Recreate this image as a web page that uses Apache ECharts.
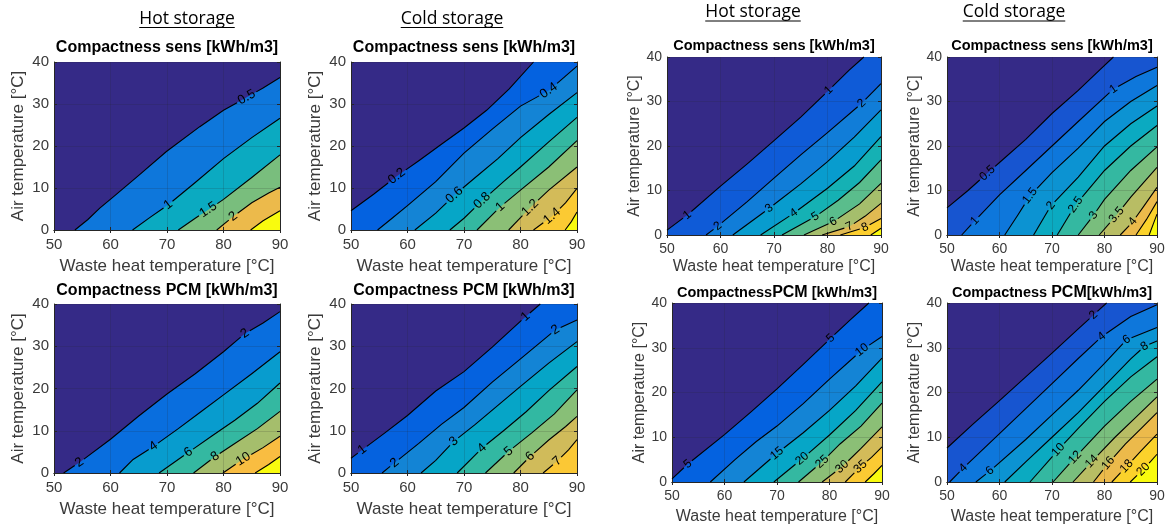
<!DOCTYPE html>
<html>
<head>
<meta charset="utf-8">
<title>Compactness maps</title>
<script src="https://cdn.jsdelivr.net/npm/echarts@6/dist/echarts.min.js"></script>
<style>
  html, body { margin: 0; padding: 0; background: #fff; }
  #chart { width: 1169px; height: 527px; }
</style>
</head>
<body>
<div id="chart"></div>
<script>
  // axis ranges (waste heat temperature, air temperature)
  var xTicks = [50, 60, 70, 80, 90];
  var yTicks = [0, 10, 20, 30, 40];

  // contour levels, contour lines [[x, y], ...] and label spots [lineIndex, x, y]
  var hotSensLevels = [0.5, 1, 1.5, 2, 2.5];
  var hotSensLines = [
    [[53.7, 0], [56, 2.5], [58.1, 5.2], [60.5, 7.9], [65, 13], [69.9, 18.7], [75.8, 24.6], [80, 28.5], [84.1, 31.6], [87, 33.8], [90, 36.3]],
    [[63.9, 0], [67, 3], [70.2, 6], [75, 11.3], [80, 17], [85, 22], [90, 26.6]],
    [[72, 0], [75, 2.8], [77.3, 4.8], [80, 7.3], [85, 12.5], [90, 17.9]],
    [[78.8, 0], [81.7, 3.2], [85, 6.5], [88, 8.8], [90, 10.2]],
    [[84.8, 0], [87, 2.2], [90, 4.6]]
  ];
  var hotSensLabels = [[0, 84.1, 31.6], [1, 70.2, 6], [2, 77.3, 4.8], [3, 81.7, 3.2]];

  var coldSensLevels = [0.2, 0.4, 0.6, 0.8, 1, 1.2, 1.4, 1.6];
  var coldSensLines = [
    [[50, 4.6], [54, 8.5], [58.1, 12.8], [62, 16.5], [66, 20.4], [70, 24.3], [74, 28.5], [78, 33.6], [82.3, 40]],
    [[54.7, 0], [57, 2.5], [60, 5.8], [65, 11.5], [70, 18.3], [75, 24], [80, 29.5], [85, 33.2], [90, 39]],
    [[61.3, 0], [65, 4], [68.3, 8.3], [72, 12.5], [76, 17], [80, 22], [85, 27.5], [90, 32.7]],
    [[67.5, 0], [70, 2.8], [73.2, 7], [77, 11.5], [80, 15], [85, 21], [90, 26.8]],
    [[72.3, 0], [76.4, 5.5], [80, 9.5], [85, 15], [90, 21.3]],
    [[77.9, 0], [81.7, 5.3], [85, 9.5], [90, 15]],
    [[82.3, 0], [85.6, 3.3], [88, 6.5], [90, 9.9]],
    [[87.9, 0], [89, 2], [90, 4.3]]
  ];
  var coldSensLabels = [[0, 58.1, 12.8], [1, 85, 33.2], [2, 68.3, 8.3], [3, 73.2, 7], [4, 76.4, 5.5], [5, 81.7, 5.3], [6, 85.6, 3.3]];

  var hotSens2Levels = [1, 2, 3, 4, 5, 6, 7, 8, 9];
  var hotSens2Lines = [
    [[50, 1.1], [53.8, 4.5], [60, 11], [65, 16], [70, 21.2], [75, 26.5], [80.2, 32.5], [84, 37], [86.8, 40]],
    [[57.3, 0], [59.5, 2], [65, 7.5], [70, 12.8], [75, 18], [80, 23], [86.4, 29.6], [90, 34]],
    [[62.3, 0], [69.1, 6], [75, 11.5], [80, 16.5], [85, 22], [90, 28.1]],
    [[67.5, 0], [73.7, 4.9], [80, 10.5], [85, 15.5], [90, 22.1]],
    [[71.5, 0], [77.7, 4.1], [82, 7.8], [86, 11.8], [90, 16.9]],
    [[75.6, 0], [81.1, 3], [86, 7], [90, 11.6]],
    [[79, 0], [84.1, 1.9], [87, 4.2], [90, 7.1]],
    [[82.4, 0], [87, 1.7], [90, 3.7]],
    [[88.1, 0], [90, 1.5]]
  ];
  var hotSens2Labels = [[0, 53.8, 4.5], [0, 80.2, 32.5], [1, 59.5, 2], [1, 86.4, 29.6], [2, 69.1, 6], [3, 73.7, 4.9], [4, 77.7, 4.1], [5, 81.1, 3], [6, 84.1, 1.9], [7, 87, 1.7]];

  var coldSens2Levels = [0.5, 1, 1.5, 2, 2.5, 3, 3.5, 4, 4.5, 5];
  var coldSens2Lines = [
    [[50, 6.1], [54, 10], [57.7, 13.9], [60, 16.3], [65, 21.5], [70, 27.3], [75, 32.5], [79, 37], [81.7, 40]],
    [[52.8, 0], [55.3, 3.2], [60, 9], [65, 14.5], [70, 20], [75, 25.5], [81.7, 32.8], [86, 35.6], [90, 37.7]],
    [[61, 0], [63.5, 4.5], [65.8, 8.8], [70, 14], [75, 19.5], [80, 25.5], [85, 30], [90, 33.6]],
    [[66.5, 0], [69.8, 6.6], [75, 13], [80, 20], [85, 25], [90, 29]],
    [[71, 0], [74.5, 6.8], [80, 14.5], [85, 20], [90, 24.6]],
    [[75, 0], [77.9, 4.4], [80, 8], [85, 14.5], [90, 19.8]],
    [[79, 0], [82.3, 4.5], [85, 8.5], [90, 15.2]],
    [[83, 0], [85.4, 3], [87.5, 6.5], [90, 10.7]],
    [[86, 0], [88, 3.5], [90, 7.5]],
    [[88.5, 0], [89.3, 2.5], [90, 4.7]]
  ];
  var coldSens2Labels = [[0, 57.7, 13.9], [1, 55.3, 3.2], [1, 81.7, 32.8], [2, 65.8, 8.8], [3, 69.8, 6.6], [4, 74.5, 6.8], [5, 77.9, 4.4], [6, 82.3, 4.5], [7, 85.4, 3]];

  var hotPcmLevels = [2, 4, 6, 8, 10, 12];
  var hotPcmLines = [
    [[51.7, 0], [54.5, 2.5], [60, 8], [65, 13.5], [70, 18.7], [75, 23.5], [80, 28.7], [83.8, 33], [87, 35.5], [90, 38.2]],
    [[61.6, 0], [64, 3.2], [67.6, 6.3], [72, 10.5], [76, 14.5], [80, 18.5], [85, 23.5], [90, 28.7]],
    [[68.6, 0], [73.8, 4.9], [78, 8.8], [82, 12.5], [86, 16.5], [90, 21.3]],
    [[74.7, 0], [78.5, 3.9], [82, 7], [86, 10.5], [90, 14.6]],
    [[79.9, 0], [83.5, 3.3], [87, 6], [90, 8.7]],
    [[85.6, 0], [88, 2], [90, 3.9]]
  ];
  var hotPcmLabels = [[0, 54.5, 2.5], [0, 83.8, 33], [1, 67.6, 6.3], [2, 73.8, 4.9], [3, 78.5, 3.9], [4, 83.5, 3.3]];

  var coldPcmLevels = [1, 2, 3, 4, 5, 6, 7];
  var coldPcmLines = [
    [[50, 3.5], [52, 5.5], [56, 9.5], [60, 13.6], [65, 19.4], [70, 24], [75, 29.8], [80.9, 37], [83.5, 40]],
    [[55.5, 0], [57.7, 2.4], [62, 7], [66, 11.5], [70, 15.5], [75, 21.5], [80, 27], [86.2, 33.9], [90, 36.2]],
    [[62.4, 0], [65, 3], [68.2, 7.5], [72, 11.5], [76, 16], [80, 20.5], [85, 26], [90, 31.1]],
    [[68.8, 0], [73.2, 5.9], [77, 10], [81, 14.5], [85, 19.5], [90, 25.2]],
    [[73.8, 0], [77.9, 5.1], [82, 9.5], [86, 14], [90, 19.7]],
    [[78.8, 0], [81.7, 3.9], [85, 7.8], [88, 11], [90, 13.4]],
    [[84, 0], [86.5, 2.8], [88.5, 5.5], [90, 7.9]]
  ];
  var coldPcmLabels = [[0, 52, 5.5], [0, 80.9, 37], [1, 57.7, 2.4], [1, 86.2, 33.9], [2, 68.2, 7.5], [3, 73.2, 5.9], [4, 77.9, 5.1], [5, 81.7, 3.9], [6, 86.5, 2.8]];

  var hotPcm2Levels = [5, 10, 15, 20, 25, 30, 35, 40];
  var hotPcm2Lines = [
    [[50, 0.7], [53, 4], [60, 10.6], [65, 15.6], [70, 20.8], [75, 26.3], [80.2, 32.1], [84, 36.3], [87.5, 40]],
    [[57.3, 0], [62, 5], [66, 9], [70, 12.5], [75, 17.5], [80, 23], [86.2, 29.5], [90, 32.5]],
    [[63.7, 0], [70, 6.4], [75, 11], [80, 16], [85, 21.5], [90, 27.7]],
    [[69.4, 0], [74.8, 5.2], [80, 10.5], [85, 16], [90, 22.4]],
    [[74.1, 0], [78.6, 4.5], [82, 8.5], [86, 12.5], [90, 17.6]],
    [[78.6, 0], [82.4, 3.4], [86, 7.5], [90, 12.3]],
    [[83, 0], [85.9, 3.4], [88, 5.5], [90, 7.85]],
    [[86.8, 0], [88.5, 1.9], [90, 3.7]]
  ];
  var hotPcm2Labels = [[0, 53, 4], [0, 80.2, 32.1], [1, 86.2, 29.5], [2, 70, 6.4], [3, 74.8, 5.2], [4, 78.6, 4.5], [5, 82.4, 3.4], [6, 85.9, 3.4]];

  var coldPcm2Levels = [2, 4, 6, 8, 10, 12, 14, 16, 18, 20];
  var coldPcm2Lines = [
    [[50, 7.6], [55, 13], [60, 18.2], [65, 23.5], [70, 28.8], [75, 34.2], [77.9, 37.3], [80.4, 40]],
    [[50.5, 0], [53.1, 3.1], [60, 10.8], [65, 16.4], [70, 22], [75, 27.6], [79.5, 32.5], [85, 37], [90, 39.6]],
    [[55.5, 0], [58.2, 2.5], [65, 9.5], [70, 15], [75, 20.5], [80, 26.5], [84.2, 31.8], [90, 34.5]],
    [[61, 0], [65, 4.5], [70, 10], [75, 15.5], [80, 21.5], [85, 27.5], [87.6, 30.3], [90, 31.5]],
    [[65.8, 0], [71.2, 7.2], [75, 12], [80, 18], [85, 23.5], [90, 28]],
    [[70.2, 0], [74.4, 5.5], [80, 12.5], [85, 18], [90, 23]],
    [[74, 0], [77.6, 4.6], [82, 10], [86, 14.5], [90, 19]],
    [[77.9, 0], [80.7, 4.2], [84, 8.5], [87, 12], [90, 15.5]],
    [[81.4, 0], [84.2, 3.5], [87, 7], [90, 10.7]],
    [[84.9, 0], [87.4, 2.8], [90, 6.2]]
  ];
  var coldPcm2Labels = [[0, 77.9, 37.3], [1, 53.1, 3.1], [1, 79.5, 32.5], [2, 58.2, 2.5], [2, 84.2, 31.8], [3, 87.6, 30.3], [4, 71.2, 7.2], [5, 74.4, 5.5], [6, 77.6, 4.6], [7, 80.7, 4.2], [8, 84.2, 3.5], [9, 87.4, 2.8]];

  // parula colour map, sampled every 4th of the 64 entries
  var parulaAt = [0, 4, 8, 12, 16, 20, 24, 28, 32, 36, 40, 44, 48, 52, 56, 60, 63];
  var parula = ['#352A87', '#3243BA', '#0363E1', '#0D75DC', '#1485D4', '#0998D1', '#06A7C6', '#15B1B4', '#38B99E',
    '#65BE86', '#92BF73', '#B7BD64', '#D9BA56', '#F8BA44', '#FCCE2E', '#F5E41D', '#F9FB0E'];

  var FONT = '"Liberation Sans", Arial, Helvetica, sans-serif';
  var AXIS_COLOR = '#262626';
  var TEXT_COLOR = '#3a3a3a';

  var panels = [
    {levels: hotSensLevels, lines: hotSensLines, labels: hotSensLabels, title: 'Compactness sens [kWh/m3]',
      left: 54, top: 62, width: 226, height: 168, titleY: 49, xGap: 28, yGap: 27, big: true},
    {levels: coldSensLevels, lines: coldSensLines, labels: coldSensLabels, title: 'Compactness sens [kWh/m3]',
      left: 351, top: 62, width: 226, height: 168, titleY: 49, xGap: 28, yGap: 27, big: true},
    {levels: hotSens2Levels, lines: hotSens2Lines, labels: hotSens2Labels, title: 'Compactness sens [kWh/m3]',
      left: 667, top: 57, width: 214, height: 178, titleY: 47, xGap: 24, yGap: 15},
    {levels: coldSens2Levels, lines: coldSens2Lines, labels: coldSens2Labels, title: 'Compactness sens [kWh/m3]',
      left: 947, top: 57, width: 210, height: 178, titleY: 47, xGap: 24, yGap: 18},
    {levels: hotPcmLevels, lines: hotPcmLines, labels: hotPcmLabels, title: 'Compactness PCM [kWh/m3]',
      left: 54, top: 304, width: 226, height: 169, titleY: 292, xGap: 28, yGap: 27, big: true},
    {levels: coldPcmLevels, lines: coldPcmLines, labels: coldPcmLabels, title: 'Compactness PCM [kWh/m3]',
      left: 351, top: 304, width: 226, height: 169, titleY: 292, xGap: 28, yGap: 27, big: true, top_: 0.87},
    {levels: hotPcm2Levels, lines: hotPcm2Lines, labels: hotPcm2Labels, title: '{a|Compactness}{b|PCM}{a| [kWh/m3]}',
      left: 672, top: 303, width: 210, height: 179, titleY: 293, xGap: 27, yGap: 20},
    {levels: coldPcm2Levels, lines: coldPcm2Lines, labels: coldPcm2Labels, title: '{a|Compactness }{b|PCM}{a|[kWh/m3]}',
      left: 947, top: 303, width: 210, height: 179, titleY: 293, xGap: 27, yGap: 20}
  ];

  function hexRgb(h) {
    return [parseInt(h.substr(1, 2), 16), parseInt(h.substr(3, 2), 16), parseInt(h.substr(5, 2), 16)];
  }
  function parulaColor(f) {
    var pos = Math.max(0, Math.min(1, f)) * 63;
    for (var i = 0; i < parulaAt.length - 1; i++) {
      if (pos <= parulaAt[i + 1]) {
        var t = (pos - parulaAt[i]) / (parulaAt[i + 1] - parulaAt[i]);
        var a = hexRgb(parula[i]), b = hexRgb(parula[i + 1]);
        return 'rgb(' + a.map(function (v, j) { return Math.round(v + (b[j] - v) * t); }).join(',') + ')';
      }
    }
    return parula[parula.length - 1];
  }

  var measureCtx = document.createElement('canvas').getContext('2d');
  function textWidth(txt, font) {
    measureCtx.font = font;
    return measureCtx.measureText(txt).width;
  }

  function pointAt(pts, cum, s) {
    for (var j = 0; j < pts.length - 1; j++) {
      if (s <= cum[j + 1] || j === pts.length - 2) {
        var len = cum[j + 1] - cum[j] || 1;
        var t = (s - cum[j]) / len;
        return [pts[j][0] + (pts[j + 1][0] - pts[j][0]) * t, pts[j][1] + (pts[j + 1][1] - pts[j][1]) * t];
      }
    }
    return pts[0];
  }
  function subPath(pts, cum, s0, s1) {
    var out = [pointAt(pts, cum, s0)];
    for (var j = 0; j < pts.length; j++) {
      if (cum[j] > s0 && cum[j] < s1) out.push(pts[j]);
    }
    out.push(pointAt(pts, cum, s1));
    return out;
  }
  function project(pts, cum, q) {
    var best = Infinity, bestS = 0;
    for (var j = 0; j < pts.length - 1; j++) {
      var vx = pts[j + 1][0] - pts[j][0], vy = pts[j + 1][1] - pts[j][1];
      var l2 = vx * vx + vy * vy || 1;
      var t = ((q[0] - pts[j][0]) * vx + (q[1] - pts[j][1]) * vy) / l2;
      t = Math.max(0, Math.min(1, t));
      var dx = pts[j][0] + vx * t - q[0], dy = pts[j][1] + vy * t - q[1];
      var d = dx * dx + dy * dy;
      if (d < best) { best = d; bestS = cum[j] + t * Math.sqrt(l2); }
    }
    return bestS;
  }

  // draws the black contour lines, broken where the inline labels sit
  function contourRenderer(p) {
    var font = (p.big ? 13 : 12) + 'px ' + FONT;
    return function (params, api) {
      var k = api.value(2);
      var pts = p.lines[k].map(function (d) { return api.coord(d); });
      var cum = [0];
      for (var i = 1; i < pts.length; i++) {
        cum.push(cum[i - 1] + Math.hypot(pts[i][0] - pts[i - 1][0], pts[i][1] - pts[i - 1][1]));
      }
      var total = cum[cum.length - 1];
      var gaps = [], texts = [];
      p.labels.forEach(function (lb) {
        if (lb[0] !== k) return;
        var s = project(pts, cum, api.coord([lb[1], lb[2]]));
        var txt = String(p.levels[k]);
        var half = textWidth(txt, font) / 2 + 2;
        var a = pointAt(pts, cum, Math.max(0, s - half));
        var b = pointAt(pts, cum, Math.min(total, s + half));
        var ang = Math.atan2(a[1] - b[1], b[0] - a[0]);
        if (ang > Math.PI / 2) ang -= Math.PI;
        if (ang < -Math.PI / 2) ang += Math.PI;
        var c = pointAt(pts, cum, s);
        gaps.push([s - half, s + half]);
        texts.push({
          type: 'text', x: c[0], y: c[1], rotation: ang,
          style: {text: txt, font: font, fill: '#000', align: 'center', verticalAlign: 'middle',
            textAlign: 'center', textVerticalAlign: 'middle'}
        });
      });
      gaps.sort(function (g1, g2) { return g1[0] - g2[0]; });
      var pieces = [], from = 0;
      gaps.forEach(function (g) {
        if (g[0] > from) pieces.push(subPath(pts, cum, from, g[0]));
        from = Math.max(from, g[1]);
      });
      if (from < total) pieces.push(subPath(pts, cum, from, total));
      var children = pieces.map(function (seg) {
        return {type: 'polyline', shape: {points: seg}, style: {stroke: '#000', lineWidth: 1.1, fill: null}};
      });
      return {type: 'group', children: children.concat(texts)};
    };
  }

  // filled region "value >= level": the contour line closed down to the x axis
  function fillPath(line) {
    var pts = line.slice();
    var last = pts[pts.length - 1];
    if (last[1] >= yTicks[yTicks.length - 1] && last[0] < xTicks[xTicks.length - 1]) {
      pts.push([xTicks[xTicks.length - 1], yTicks[yTicks.length - 1]]);
    }
    return pts;
  }

  var grids = [], xAxes = [], yAxes = [], titles = [], series = [];
  var xTop = [], yRight = [];

  panels.forEach(function (p, i) {
    var tick = p.big ? 15 : 14;
    var nameSize = p.big ? 17 : 16;
    var titleSize = p.big ? 16 : 14.5;
    var nBands = p.levels.length + 1;
    var topFrac = p.top_ || 1;

    grids.push({left: p.left, top: p.top, width: p.width, height: p.height, show: true,
      backgroundColor: parula[0], borderWidth: 0});

    var common = {
      gridIndex: i, type: 'value', z: 3,
      axisLine: {show: true, lineStyle: {color: AXIS_COLOR, width: 1}},
      axisTick: {show: true, inside: true, length: 3, lineStyle: {color: AXIS_COLOR}},
      splitLine: {show: true, lineStyle: {color: 'rgba(38,38,38,0.16)', width: 1}}
    };
    xAxes.push(Object.assign({}, common, {
      position: 'bottom', min: xTicks[0], max: xTicks[xTicks.length - 1], interval: xTicks[1] - xTicks[0],
      axisLabel: {color: TEXT_COLOR, fontSize: tick, fontFamily: FONT, margin: 7},
      name: 'Waste heat temperature [°C]', nameLocation: 'middle', nameGap: p.xGap,
      nameTextStyle: {color: TEXT_COLOR, fontSize: nameSize, fontFamily: FONT}
    }));
    yAxes.push(Object.assign({}, common, {
      position: 'left', min: yTicks[0], max: yTicks[yTicks.length - 1], interval: yTicks[1] - yTicks[0],
      axisLabel: {color: TEXT_COLOR, fontSize: tick, fontFamily: FONT, margin: 5},
      name: 'Air temperature [°C]', nameLocation: 'middle', nameGap: p.yGap,
      nameTextStyle: {color: TEXT_COLOR, fontSize: nameSize, fontFamily: FONT}
    }));
    xTop.push({
      gridIndex: i, type: 'value', position: 'top', z: 3,
      min: xTicks[0], max: xTicks[xTicks.length - 1], interval: xTicks[1] - xTicks[0],
      axisLine: {show: true, lineStyle: {color: AXIS_COLOR, width: 1}},
      axisTick: {show: true, inside: true, length: 3, lineStyle: {color: AXIS_COLOR}},
      axisLabel: {show: false}, splitLine: {show: false}
    });
    yRight.push({
      gridIndex: i, type: 'value', position: 'right', z: 3,
      min: yTicks[0], max: yTicks[yTicks.length - 1], interval: yTicks[1] - yTicks[0],
      axisLine: {show: true, lineStyle: {color: AXIS_COLOR, width: 1}},
      axisTick: {show: true, inside: true, length: 3, lineStyle: {color: AXIS_COLOR}},
      axisLabel: {show: false}, splitLine: {show: false}
    });

    titles.push({
      text: p.title, left: p.left + p.width / 2, top: p.titleY - titleSize / 2 - 1, textAlign: 'center', padding: 0,
      textStyle: {color: '#000', fontSize: titleSize, fontWeight: 'bold', fontFamily: FONT,
        rich: {
          a: {color: '#000', fontSize: titleSize, fontWeight: 'bold', fontFamily: FONT},
          b: {color: '#000', fontSize: titleSize + 1.5, fontWeight: 'bold', fontFamily: FONT}
        }}
    });

    p.lines.forEach(function (line, k) {
      series.push({
        type: 'line', xAxisIndex: i, yAxisIndex: i, data: fillPath(line),
        symbol: 'none', showSymbol: false, silent: true, z: 1,
        lineStyle: {width: 0},
        areaStyle: {color: parulaColor((k + 1) / (nBands - 1) * topFrac), opacity: 1, origin: 'start'}
      });
    });
    series.push({
      type: 'custom', xAxisIndex: i, yAxisIndex: i, silent: true, z: 4,
      data: p.lines.map(function (line, k) { return [line[0][0], line[0][1], k]; }),
      encode: {x: 0, y: 1},
      renderItem: contourRenderer(p)
    });
  });

  // column headers with underline
  var headers = [
    {text: 'Hot storage', x: 187, y: 19, line: 27.5},
    {text: 'Cold storage', x: 452, y: 19, line: 27.5},
    {text: 'Hot storage', x: 753, y: 12.5, line: 21},
    {text: 'Cold storage', x: 1014, y: 12.5, line: 21}
  ];
  var headFont = '17.5px "Open Sans", "Liberation Sans", sans-serif';
  var graphics = [];
  headers.forEach(function (h) {
    var w = textWidth(h.text, headFont);
    graphics.push({type: 'text', x: h.x, y: h.y,
      style: {text: h.text, font: headFont, fill: '#000', align: 'center', verticalAlign: 'middle',
        textAlign: 'center', textVerticalAlign: 'middle'}});
    graphics.push({type: 'line', shape: {x1: h.x - w / 2, y1: h.line, x2: h.x + w / 2, y2: h.line},
      style: {stroke: '#000', lineWidth: 1}});
  });

  var chart = echarts.init(document.getElementById('chart'), null, {renderer: 'canvas'});
  chart.setOption({
    animation: false,
    backgroundColor: '#fff',
    title: titles,
    grid: grids,
    xAxis: xAxes.concat(xTop),
    yAxis: yAxes.concat(yRight),
    graphic: graphics,
    series: series
  });
</script>
</body>
</html>
